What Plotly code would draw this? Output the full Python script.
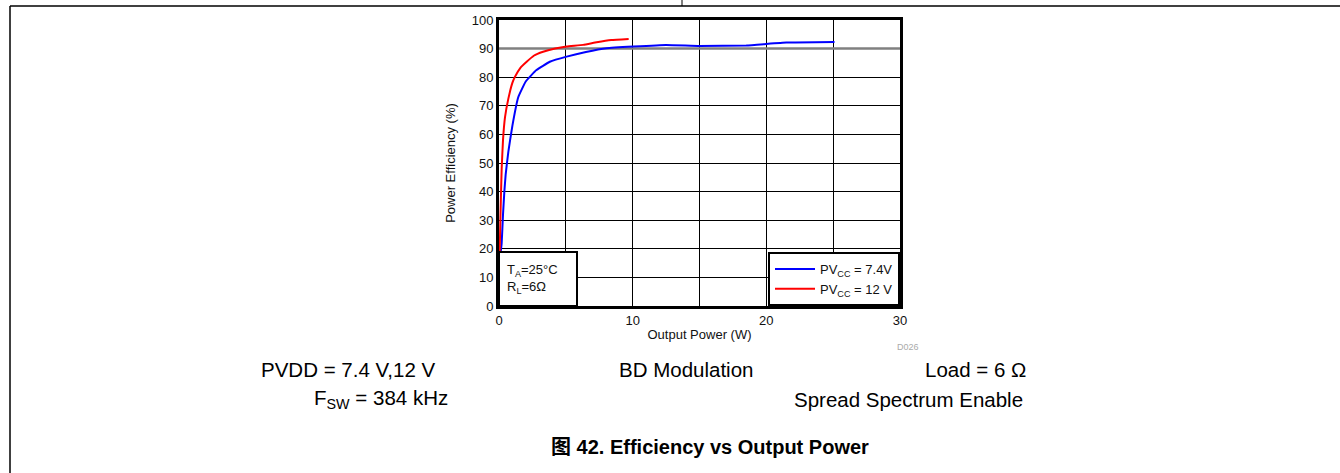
import plotly.graph_objects as go

# Data
p_74 = [0.08, 0.2, 0.3, 0.4, 0.5, 0.7, 1.0, 1.44, 2.0, 2.8, 3.8, 5.06, 6.5, 8.05, 10.05, 12.5, 15.0, 18.5, 21.5, 25.1]
e_74 = [17, 22, 32, 40, 46, 54, 63, 73, 78.5, 82.5, 85.4, 87.2, 88.8, 90.1, 90.7, 91.3, 90.9, 91.1, 92.1, 92.3]
p_12 = [0.05, 0.1, 0.2, 0.3, 0.45, 0.7, 1.0, 1.2, 1.6, 2.07, 2.6, 3.3, 4.2, 5.06, 6.3, 7.3, 8.4, 9.7]
e_12 = [18, 30, 48, 58, 66, 72.5, 78, 80.2, 83.3, 85.4, 87.5, 88.9, 90.0, 90.7, 91.3, 92.2, 93.0, 93.4]

series_names = ["PV<sub>CC</sub> = 7.4V", "PV<sub>CC</sub> = 12 V"]
series_colors = ["#0000ff", "#ff0000"]

L, R, T, B = 499, 900, 20, 306
W, H = 1340, 473

def px(x):
    return (x - L) / (R - L)

def py(y):
    return (B - y) / (B - T)

fig = go.Figure()
fig.add_trace(go.Scatter(x=p_74, y=e_74, mode="lines", name=series_names[0],
                         line=dict(color=series_colors[0], width=2, shape="spline", smoothing=0.3)))
fig.add_trace(go.Scatter(x=p_12, y=e_12, mode="lines", name=series_names[1],
                         line=dict(color=series_colors[1], width=2, shape="spline", smoothing=0.3)))

fig.update_layout(
    width=W, height=H,
    margin=dict(l=L, r=W - R, t=T, b=H - B),
    paper_bgcolor="white", plot_bgcolor="white",
    font=dict(family="Arial, Liberation Sans", size=13, color="#111"),
    showlegend=True,
    legend=dict(x=1, y=0, xanchor="right", yanchor="bottom", bgcolor="white",
                bordercolor="black", borderwidth=2, font=dict(size=13, color="#111"),
                tracegroupgap=0, itemwidth=40),
    xaxis=dict(range=[0, 30], dtick=10, tick0=0, showgrid=True, gridcolor="black", gridwidth=1,
               minor=dict(dtick=5, showgrid=True, gridcolor="black", gridwidth=1),
               showline=True, linecolor="black", linewidth=3, mirror=True, zeroline=False,
               ticks="", title=dict(text="Output Power (W)", font=dict(size=13), standoff=4)),
    yaxis=dict(range=[0, 100], dtick=10, showgrid=True, gridcolor="black", gridwidth=1,
               showline=True, linecolor="black", linewidth=3, mirror=True, zeroline=False,
               ticks="", title=dict(text="Power Efficiency (%)", font=dict(size=13), standoff=14)),
)

# gray 90% grid line
fig.add_shape(type="line", xref="x", yref="y", x0=0, x1=30, y0=90, y1=90,
              line=dict(color="#808080", width=2.5), layer="between")

# Condition box (TA, RL)
fig.add_shape(type="rect", xref="paper", yref="paper", x0=0, x1=px(577), y0=0, y1=py(252),
              line=dict(color="black", width=2), fillcolor="white", layer="above")
fig.add_annotation(xref="paper", yref="paper", x=px(505), y=py(279), xanchor="left", yanchor="middle",
                   text="T<sub>A</sub>=25°C<br>R<sub>L</sub>=6Ω", showarrow=False, align="left",
                   font=dict(size=13, color="#111"))

# D026 label
fig.add_annotation(xref="paper", yref="paper", x=px(908), y=py(347), xanchor="center", yanchor="middle",
                   text="D026", showarrow=False, font=dict(size=9, color="#aaaaaa"))

# page frame
fig.add_shape(type="line", xref="paper", yref="paper", x0=px(10), x1=px(1340), y0=py(6), y1=py(6),
              line=dict(color="black", width=1.5))
fig.add_shape(type="line", xref="paper", yref="paper", x0=px(10), x1=px(10), y0=py(6), y1=py(473),
              line=dict(color="black", width=1.5))
fig.add_shape(type="line", xref="paper", yref="paper", x0=px(682), x1=px(682), y0=py(0), y1=py(6),
              line=dict(color="black", width=1))

txt = dict(xref="paper", yref="paper", showarrow=False, font=dict(size=20.5, color="black"))
fig.add_annotation(x=px(437), y=py(369), xanchor="right", yanchor="middle", text="PVDD = 7.4 V,12 V", **txt)
fig.add_annotation(x=px(686), y=py(369), xanchor="center", yanchor="middle", text="BD Modulation", **txt)
fig.add_annotation(x=px(1028), y=py(369), xanchor="right", yanchor="middle", text="Load = 6 Ω", **txt)
fig.add_annotation(x=px(450), y=py(399), xanchor="right", yanchor="middle", text="F<sub>SW</sub> = 384 kHz", **txt)
fig.add_annotation(x=px(1025), y=py(399), xanchor="right", yanchor="middle", text="Spread Spectrum Enable", **txt)
fig.add_annotation(xref="paper", yref="paper", showarrow=False, x=px(710), y=py(447), xanchor="center",
                   yanchor="middle", text="<b>图 42. Efficiency vs Output Power</b>",
                   font=dict(size=20, color="black", family="Arial, Liberation Sans, Noto Sans CJK SC"))

fig.write_html("out.html", config={"displayModeBar": False},
               post_script="document.body.style.margin='0';")
